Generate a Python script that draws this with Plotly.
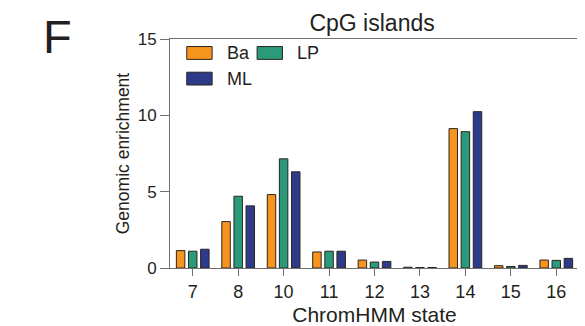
import plotly.graph_objects as go

states = ["7", "8", "10", "11", "12", "13", "14", "15", "16"]
ba = [1.14, 3.04, 4.81, 1.05, 0.52, 0.05, 9.13, 0.15, 0.52]
lp = [1.10, 4.70, 7.15, 1.10, 0.39, 0.03, 8.93, 0.10, 0.50]
ml = [1.23, 4.07, 6.30, 1.10, 0.43, 0.03, 10.24, 0.17, 0.63]
series_names = ["Ba", "LP", "ML"]
series_colors = ["#F7941D", "#2A9A7A", "#2E3A8A"]
y_ticks = [0, 5, 10, 15]

FONT = "Liberation Sans, Arial, sans-serif"
TXT = "#231F20"
AXC = "#707070"

fig = go.Figure()
for name, vals, col in zip(series_names, [ba, lp, ml], series_colors):
    fig.add_trace(go.Bar(x=states, y=vals, name=name,
                         marker=dict(color=col, line=dict(color="#2B2522", width=1)),
                         showlegend=False))

# page body has an 8px margin, so the figure is sized/offset to compensate
fig.update_layout(
    width=577, height=318,
    margin=dict(l=162, r=6, t=31, b=58),
    paper_bgcolor="white", plot_bgcolor="white",
    barmode="group", bargap=0.2, bargroupgap=0.3,
    font=dict(family=FONT, color=TXT, size=17),
    title=dict(text="CpG islands", x=0.631, xanchor="center", y=0.953, yanchor="middle",
               font=dict(size=23, color=TXT)),
)
fig.update_xaxes(type="category", range=[-0.5, 8.5], showline=True, linecolor=AXC, linewidth=1, mirror=True,
                 ticks="outside", ticklen=7, tickcolor=AXC, showgrid=False, automargin=False,
                 title=dict(text="ChromHMM state", font=dict(size=21), standoff=7),
                 tickfont=dict(size=18))
fig.update_yaxes(range=[0, 15], tickvals=y_ticks, showline=True, linecolor=AXC, linewidth=1, mirror=True,
                 ticks="outside", ticklen=9, tickcolor=AXC, showgrid=False, zeroline=False, automargin=False,
                 title=dict(text="Genomic enrichment", font=dict(size=17.5), standoff=3),
                 tickfont=dict(size=17))

# legend drawn manually
leg = [(series_names[0], series_colors[0], 0.041, 0.911), (series_names[1], series_colors[1], 0.213, 0.911),
       (series_names[2], series_colors[2], 0.041, 0.799)]
for name, col, x0, y0 in leg:
    fig.add_shape(type="rect", xref="paper", yref="paper", x0=x0, x1=x0 + 0.062, y0=y0, y1=y0 + 0.056,
                  fillcolor=col, line=dict(color="#2B2522", width=1))
    fig.add_annotation(text=name, xref="paper", yref="paper", x=x0 + 0.093, y=y0 + 0.028,
                       xanchor="left", yanchor="middle", showarrow=False, font=dict(size=18, color=TXT))

fig.add_annotation(text="F", xref="paper", yref="paper", x=-0.276, y=1.135, xanchor="center", yanchor="top",
                   showarrow=False, font=dict(size=47, color=TXT))

fig.write_html("out.html")
